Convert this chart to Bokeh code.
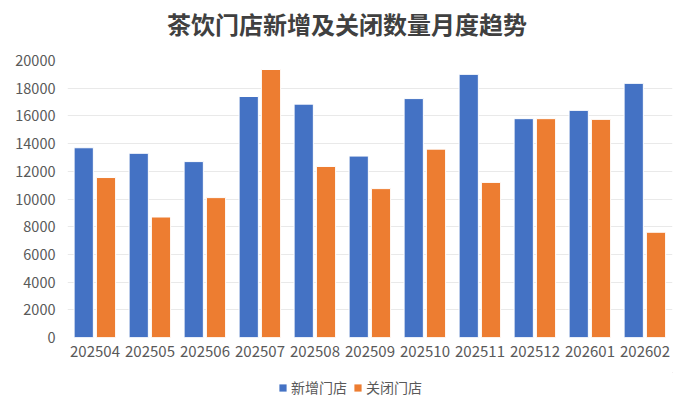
from bokeh.plotting import figure
from bokeh.models import ColumnDataSource, FactorRange, Range1d, FixedTicker, Legend, LegendItem, Label
from bokeh.layouts import column
from bokeh.transform import dodge
from bokeh.embed import file_html
from bokeh.resources import INLINE

months = ["202504", "202505", "202506", "202507", "202508", "202509",
          "202510", "202511", "202512", "202601", "202602"]
new_stores = [13700, 13300, 12700, 17400, 16850, 13100, 17250, 19000, 15800, 16400, 18350]
closed_stores = [11550, 8700, 10100, 19350, 12350, 10750, 13600, 11200, 15800, 15750, 7600]
y_ticks = [0, 2000, 4000, 6000, 8000, 10000, 12000, 14000, 16000, 18000, 20000]
series_names = ["新增门店", "关闭门店"]
title_text = "茶饮门店新增及关闭数量月度趋势"

FONT = "Noto Sans CJK SC"
BLUE = "#4472C4"
ORANGE = "#ED7D31"
TXT = "#595959"


def strip(h):
    f = figure(width=700, height=h, x_range=Range1d(0, 1), y_range=Range1d(0, 1),
               output_backend="svg", toolbar_location=None,
               min_border_left=0, min_border_right=0, min_border_top=0, min_border_bottom=0)
    f.axis.visible = False
    f.grid.visible = False
    f.outline_line_color = None
    return f


# title strip
pt = strip(46)
pt.add_layout(Label(x=0.462, y=0.49, text=title_text, text_align="center",
                    text_baseline="middle", text_font=FONT, text_font_size="24px",
                    text_font_style="bold", text_color="#404040"))

source = ColumnDataSource(dict(month=months, new=new_stores, closed=closed_stores))

p = figure(width=700, height=326, x_range=FactorRange(*months), y_range=Range1d(0, 20000),
           output_backend="svg", toolbar_location=None,
           min_border_left=67, min_border_right=28, min_border_top=14, min_border_bottom=35)

r1 = p.vbar(x=dodge("month", -0.205, range=p.x_range), top="new", width=0.35, source=source,
            fill_color=BLUE, line_color="white", line_width=1)
r2 = p.vbar(x=dodge("month", 0.2, range=p.x_range), top="closed", width=0.35, source=source,
            fill_color=ORANGE, line_color="white", line_width=1)

p.outline_line_color = None
p.xgrid.grid_line_color = None
p.ygrid.grid_line_color = "#e9e9e9"
p.ygrid.grid_line_width = 1

p.yaxis.ticker = FixedTicker(ticks=y_ticks)
for ax in (p.xaxis[0], p.yaxis[0]):
    ax.axis_line_color = None
    ax.major_tick_line_color = None
    ax.minor_tick_line_color = None
    ax.major_tick_out = 0
    ax.major_tick_in = 0
    ax.minor_tick_out = 0
    ax.major_label_text_font = FONT
    ax.major_label_text_color = TXT
p.yaxis.major_label_text_font_size = "14.5px"
p.xaxis.major_label_text_font_size = "15px"
p.yaxis.major_label_standoff = 12
p.xaxis.major_label_standoff = 8

# legend strip below the chart
pl = strip(28)
d1 = pl.vbar(x=[5], top=[5], bottom=[4], width=0.1, fill_color=BLUE, line_color=None)
d2 = pl.vbar(x=[5], top=[5], bottom=[4], width=0.1, fill_color=ORANGE, line_color=None)

legend = Legend(items=[LegendItem(label=series_names[0], renderers=[d1]),
                       LegendItem(label=series_names[1], renderers=[d2])],
                orientation="horizontal", location=(211, 3),
                label_text_font=FONT, label_text_font_size="14px", label_text_color=TXT,
                glyph_width=9, glyph_height=9, label_standoff=4, spacing=6,
                padding=0, margin=0, border_line_color=None, background_fill_alpha=0)
pl.add_layout(legend)

layout = column(pt, p, pl, spacing=0)
open("out.html", "w").write(file_html(layout, INLINE))
